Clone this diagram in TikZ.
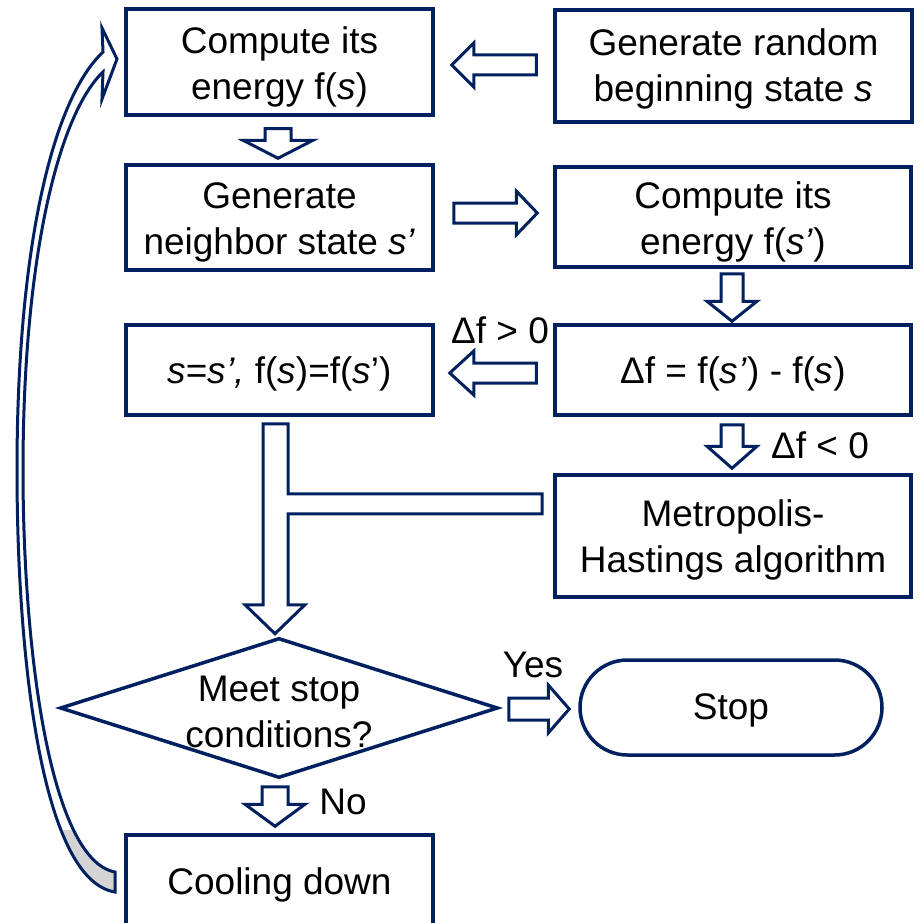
\documentclass[tikz,border=0pt]{standalone}
\usepackage{fontspec}
\setmainfont{Liberation Sans}
\usetikzlibrary{shapes.geometric,calc}
\definecolor{navy}{RGB}{0,32,96}
\definecolor{fold}{RGB}{212,212,212}

\tikzset{
  txt/.style={inner sep=0pt, align=center, font=\fontsize{37}{46}\selectfont},
  box/.style={draw=navy, line width=3.5pt, fill=white, shape=rectangle, inner sep=0pt},
  barrow/.style={draw=navy, fill=white, line width=3pt, line join=miter},
}

% hollow block arrow: #1 tail, #2 tip, #3 shaft half-width, #4 head half-width, #5 head length
\newcommand\blockarrow[5]{%
  \path let \p1=#1, \p2=#2 in
    \pgfextra{%
      \pgfmathsetmacro\baAng{atan2(\y2-\y1,\x2-\x1)}%
      \pgfmathsetmacro\baLen{veclen(\x2-\x1,\y2-\y1)}%
      \xdef\baAng{\baAng}\xdef\baLen{\baLen}%
    };
  \draw[barrow, shift={#1}, rotate=\baAng]
    (0,-#3) -- ({\baLen-#5},-#3) -- ({\baLen-#5},-#4) -- (\baLen,0)
    -- ({\baLen-#5},#4) -- ({\baLen-#5},#3) -- (0,#3) -- cycle;
}

\begin{document}
\begin{tikzpicture}[x=1pt,y=-1pt]
\useasboundingbox (0,0) rectangle (923,923);

% process boxes
\node[box, minimum width=307, minimum height=106] (A) at (279.5,62) {};
\node[box, minimum width=357, minimum height=112] (B) at (733.5,66) {};
\node[box, minimum width=307, minimum height=105] (C) at (279.5,217.5) {};
\node[box, minimum width=356, minimum height=100] (D) at (733,217) {};
\node[box, minimum width=307, minimum height=90] (E) at (279.5,370) {};
\node[box, minimum width=356, minimum height=90] (F) at (733,370) {};
\node[box, minimum width=356, minimum height=122] (G) at (733,536) {};

% decision, terminal and cooling step
\node[draw=navy, line width=3.5pt, fill=white, shape=diamond, inner sep=0pt,
      minimum width=438, minimum height=140] (dec) at (279,708) {};
\node[box, rounded corners=47.5pt, minimum width=302, minimum height=95] (stop) at (731,707.5) {};
\node[box, minimum width=307, minimum height=100] (cool) at (279.5,885) {};

% box texts
\node[txt] at ($(A)+(0,4.5)$) {Compute its\\energy f(\textit{s})};
\node[txt] at ($(B)+(0,2.5)$) {Generate random\\beginning state \textit{s}};
\node[txt] at ($(C)+(0,4.5)$) {Generate\\neighbor state \textit{s’}};
\node[txt] at ($(D)+(0,4.5)$) {Compute its\\energy f(\textit{s’})};
\node[txt] at ($(E)+(0,4)$) {\textit{s}=\textit{s’,} f(\textit{s})=f(\textit{s}’)};
\node[txt] at ($(F)+(0,4)$) {Δf = f(\textit{s’}) - f(\textit{s})};
\node[txt] at ($(G)+(0,4)$) {Metropolis-\\Hastings algorithm};
\node[txt] at ($(dec)+(0,4)$) {Meet stop\\conditions?};
\node[txt] at ($(stop)+(0,3)$) {Stop};
\node[txt] at (cool) {Cooling down};

% block arrows between the steps
\blockarrow{($(B.west)+(-17,-1)$)}{($(A.east)+(17,3)$)}{10}{22}{22}
\blockarrow{($(A.south)+(-1.5,12)$)}{($(C.north)+(-1.5,-5)$)}{13}{35}{18}
\blockarrow{($(C.east)+(19,-4.5)$)}{($(D.west)+(-16,-4)$)}{10}{22}{21}
\blockarrow{($(D.south)+(-1,5)$)}{($(F.north)+(-1,-2)$)}{11}{25}{20}
\blockarrow{($(F.west)+(-17,3)$)}{($(E.east)+(15,3)$)}{10}{22}{24}
\blockarrow{($(F.south)+(-1,8)$)}{($(G.north)+(-1,-5)$)}{11}{25}{22}
\blockarrow{($(dec.east)+(9,1)$)}{($(stop.west)+(-9,1.5)$)}{11}{24}{21}
\blockarrow{($(dec.south)+(-4,7)$)}{($(cool.north)+(-4.5,-7)$)}{13}{30}{22}

% merging arrow: from E and from G down to the decision
\draw[barrow, shift={($(E.south)+(-4,7)$)}]
  (-12.5,0) -- (12.5,0) -- (12.5,70) -- (266.5,70) -- (266.5,90) -- (12.5,90)
  -- (12.5,181) -- (29.5,181) -- (-0.5,210) -- (-30.5,181) -- (-12.5,181) -- cycle;

% branch labels
\node[txt] at (500,330) {Δf > 0};
\node[txt] at (820,445) {Δf < 0};
\node[txt] at (533,665) {Yes};
\node[txt] at (343,802) {No};

% curved return arrow from cooling back to the energy step
\fill[white] (115,872) .. controls (50,860) and (23,650) .. (23,470)
  .. controls (23,260) and (58,115) .. (103,72) -- (102,99) -- (117,59) -- (102,28)
  -- (103,52) .. controls (52,100) and (17,250) .. (17,470)
  .. controls (17,650) and (40,880) .. (115,892) -- cycle;
\begin{scope}
  \clip (0,830) rectangle (130,923);
  \fill[fold] (115,872) .. controls (50,860) and (23,650) .. (23,470)
    -- (17,470) .. controls (17,650) and (40,880) .. (115,892) -- cycle;
\end{scope}
\draw[navy, line width=3pt, line join=miter] (115,872) .. controls (50,860) and (23,650) .. (23,470)
  .. controls (23,260) and (58,115) .. (103,72) -- (102,99) -- (117,59) -- (102,28)
  -- (103,52) .. controls (52,100) and (17,250) .. (17,470)
  .. controls (17,650) and (40,880) .. (115,892) -- cycle;
\end{tikzpicture}
\end{document}
